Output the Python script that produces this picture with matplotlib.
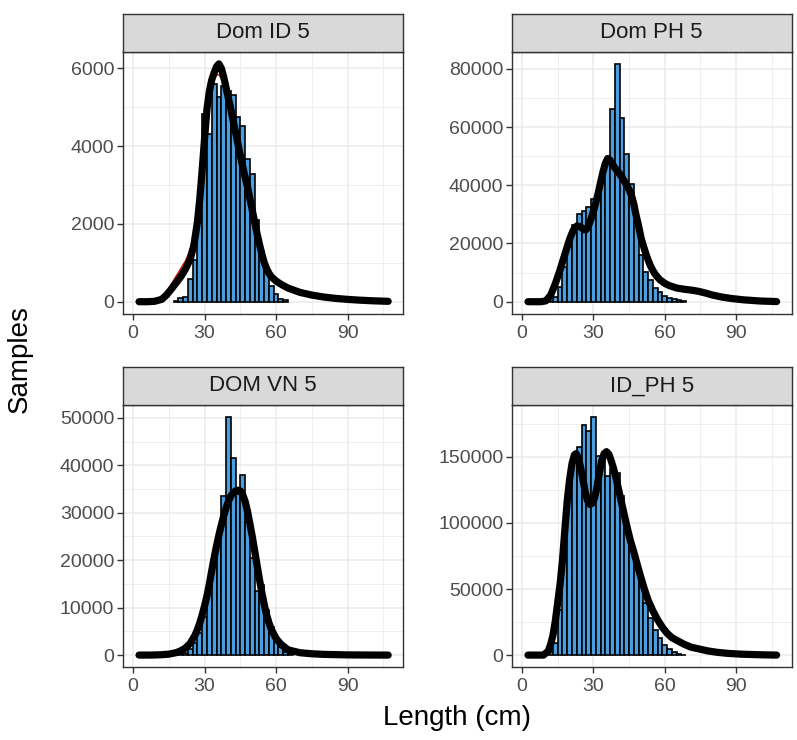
import matplotlib.pyplot as plt
import numpy as np

plt.rcParams['font.family'] = ['Liberation Sans', 'DejaVu Sans']

panel_names = ['Dom ID 5', 'Dom PH 5', 'DOM VN 5', 'ID_PH 5']

# histogram bins (2 cm wide, centres) and counts
id_centers = [18, 20, 22, 24, 26, 28, 30, 32, 34, 36, 38, 40, 42, 44, 46, 48, 50, 52, 54, 56, 58, 60, 62, 64]
id_counts = [30, 85, 130, 590, 1080, 2310, 4830, 4310, 5600, 5260, 5550, 5420, 5300, 4740, 4520, 3660, 3280, 2100,
             1300, 850, 400, 200, 80, 40]

ph_centers = [12, 14, 16, 18, 20, 22, 24, 26, 28, 30, 32, 34, 36, 38, 40, 42, 44, 46, 48, 50, 52, 54, 56, 58, 60,
              62, 64, 66, 68]
ph_counts = [300, 1500, 5000, 12000, 20000, 26500, 30100, 31000, 32500, 35300, 38000, 44500, 48500, 66200, 81700,
             63000, 50600, 40300, 28700, 16100, 10300, 7500, 4800, 3200, 2000, 1400, 1100, 500, 300]

vn_centers = [20, 22, 24, 26, 28, 30, 32, 34, 36, 38, 40, 42, 44, 46, 48, 50, 52, 54, 56, 58, 60, 62, 64, 66]
vn_counts = [150, 400, 1300, 2500, 4600, 8100, 13100, 19000, 25000, 33500, 50200, 41500, 34000, 37900, 28000, 20500,
             13500, 14800, 9500, 6000, 3500, 1800, 700, 250]

idph_centers = [10, 12, 14, 16, 18, 20, 22, 24, 26, 28, 30, 32, 34, 36, 38, 40, 42, 44, 46, 48, 50, 52, 54, 56, 58,
                60, 62, 64, 66, 68]
idph_counts = [300, 2000, 8900, 34300, 82500, 125000, 150000, 157400, 174400, 169300, 180300, 151000, 150000, 135800,
               141000, 137900, 120600, 99000, 82500, 67300, 55800, 39300, 27900, 19000, 12700, 7600, 4300, 2500, 1000,
               400]

# fitted curves: rows of [length, black fit, red fit]
id_curve = np.array([
    [2.5, 0, 0], [6, 0, 0], [9, 10, 15], [12, 60, 100], [14, 170, 250], [16, 320, 450], [18, 480, 650],
    [20, 640, 850], [22, 840, 1050], [24, 1100, 1350], [25.5, 1450, 1700], [27, 2050, 2250], [28, 2650, 2800],
    [29, 3400, 3450], [30, 4200, 4150], [31, 4950, 4800], [32, 5400, 5250], [33, 5700, 5580], [34, 5880, 5760],
    [35, 6040, 5830], [36, 6110, 5830], [37, 6000, 5740], [38, 5780, 5560], [39, 5500, 5330], [40, 5220, 5080],
    [41, 4950, 4820], [42, 4650, 4550], [43, 4350, 4270], [44, 4050, 3990], [45, 3750, 3720], [46, 3470, 3450],
    [47, 3200, 3190], [48, 2950, 2930], [49, 2650, 2660], [50, 2350, 2380], [51, 2050, 2100], [52, 1750, 1820],
    [53, 1480, 1560], [54, 1230, 1320], [55, 1010, 1110], [56, 850, 940], [57, 730, 810], [58, 640, 710],
    [60, 530, 580], [62, 450, 490], [65, 350, 390], [70, 240, 270], [75, 170, 190], [80, 120, 135],
    [85, 85, 95], [90, 60, 65], [95, 40, 42], [100, 25, 27], [107, 10, 10],
])

ph_curve = np.array([
    [2.5, 0, 0], [8, 0, 0], [10, 300, 400], [12, 2200, 2500], [14, 6200, 6500], [16, 11000, 11300],
    [18, 16300, 16500], [20, 21500, 21500], [21.5, 24500, 24300], [23, 26000, 25600], [24.5, 25800, 25500],
    [26, 24700, 24600], [27, 24800, 24800], [28, 26200, 26000], [29, 28500, 28300], [30, 31000, 30700],
    [31, 34000, 33600], [32, 37300, 36800], [33, 41000, 40300], [34, 44500, 43700], [35, 47500, 46500],
    [36, 49200, 47800], [37, 48600, 47200], [38, 47200, 45800], [39, 46000, 44500], [40, 45000, 43300],
    [41, 44000, 42200], [42, 42800, 41100], [43, 41400, 40000], [44, 40000, 38800], [45, 38500, 37600],
    [46, 36500, 36000], [47, 33500, 33800], [48, 29500, 30200], [49, 26000, 26900], [50, 22000, 23200],
    [51, 19200, 20000], [52, 16600, 17300], [53, 14300, 15000], [54, 12300, 13000], [55, 10700, 11300],
    [56, 9400, 9900], [57, 8400, 8900], [58, 7500, 8000], [60, 6300, 6700], [62, 5500, 5800], [65, 4700, 4900],
    [68, 4300, 4400], [71, 4000, 4000], [74, 3600, 3600], [77, 3000, 3000], [80, 2300, 2400], [84, 1600, 1700],
    [88, 1100, 1200], [93, 650, 700], [100, 250, 280], [107, 50, 60],
])

vn_curve = np.array([
    [2.5, 0, 0], [8, 10, 12], [12, 80, 90], [15, 200, 220], [18, 500, 540], [20, 900, 950], [22, 1500, 1580],
    [24, 2500, 2600], [26, 4200, 4300], [27, 5400, 5500], [28, 6800, 6900], [29, 8500, 8600], [30, 10400, 10500],
    [31, 12500, 12600], [32, 15000, 15000], [33, 17800, 17800], [34, 20500, 20500], [35, 23000, 23000],
    [36, 25300, 25300], [37, 27400, 27500], [38, 29300, 29400], [39, 31000, 31100], [40, 32400, 32500],
    [41, 33500, 33600], [42, 34200, 34400], [43, 34600, 34800], [44, 34750, 35000], [45, 34600, 34900],
    [46, 33800, 34000], [47, 32400, 32500], [48, 30300, 30400], [49, 27700, 27800], [50, 25000, 25000],
    [51, 22000, 22000], [52, 19000, 19000], [53, 16000, 16000], [54, 13200, 13200], [55, 10700, 10800],
    [56, 8500, 8600], [57, 6800, 6900], [58, 5400, 5500], [60, 3500, 3600], [62, 2300, 2350], [65, 1100, 1150],
    [70, 500, 520], [75, 280, 290], [80, 150, 160], [90, 40, 45], [100, 10, 10], [107, 0, 0],
])

idph_curve = np.array([
    [2.5, 0, 0], [9, 0, 0], [11, 3000, 2800], [12, 8000, 7500], [13, 15000, 14200], [14, 26000, 25000],
    [15, 40000, 39000], [16, 54000, 53000], [17, 72000, 71000], [18, 95000, 93500], [19, 117000, 115000],
    [20, 133000, 131000], [21, 145000, 142000], [22, 151500, 147500], [22.7, 152500, 148000],
    [23.5, 150000, 146000], [24.5, 143000, 139500], [25.5, 134000, 131000], [26.5, 124000, 121500],
    [27.5, 117000, 114500], [28.5, 114000, 111500], [29.5, 115000, 112500], [30.5, 119000, 116500],
    [31.5, 127000, 124500], [32.5, 138000, 135000], [33.5, 147000, 144000], [34.5, 152500, 149000],
    [35.5, 154000, 150500], [36.5, 152000, 149000], [37.5, 147000, 144500], [38.5, 141000, 139000],
    [39.5, 134000, 132500], [41, 122000, 121500], [42.5, 110000, 110000], [44, 98000, 98500],
    [45.5, 87000, 88000], [47, 78000, 79000], [48.5, 68000, 69500], [50, 58500, 60000], [51.5, 49500, 51000],
    [53, 41500, 42800], [55, 33500, 34500], [57, 26700, 27500], [59, 21000, 21700], [61, 16500, 17000],
    [63, 13200, 13600], [65.4, 10800, 11100], [68, 8300, 8500], [71, 6000, 6200], [74, 4800, 4900],
    [78, 3200, 3300], [82, 2100, 2200], [86.5, 1300, 1400], [92, 700, 750], [100, 250, 270], [107, 0, 0],
])

y_steps = [2000, 20000, 10000, 50000]

panels = [
    (id_centers, id_counts, id_curve),
    (ph_centers, ph_counts, ph_curve),
    (vn_centers, vn_counts, vn_curve),
    (idph_centers, idph_counts, idph_curve),
]

W, H = 797, 740
FILL = '#4A9EDF'

# pixel boxes: left, top, right, bottom
boxes = [(122.7, 52, 403.3, 313.6), (511.7, 52, 791.7, 313.6),
         (122.7, 405, 403.3, 667), (511.7, 405, 791.7, 667)]
strip_h = 38


def px_axes(fig, left, top, right, bottom):
    return fig.add_axes([left / W, 1 - bottom / H, (right - left) / W, (bottom - top) / H])


fig = plt.figure(figsize=(W / 100, H / 100), dpi=100)

for i, (centers, counts, curve) in enumerate(panels):
    l, t, r, b = boxes[i]
    ax = px_axes(fig, l, t, r, b)
    ax.set_facecolor('white')

    fx, fb, fr = curve[:, 0], curve[:, 1], curve[:, 2]
    ax.bar(centers, counts, width=2, color=FILL, edgecolor='black', linewidth=1.2, zorder=2)
    ax.plot(fx, fr, color='#D00000', lw=1.0, zorder=3)
    ax.plot(fx, fb, color='black', lw=5.2, solid_capstyle='round', solid_joinstyle='round', zorder=4)

    top = max(max(counts), fb.max(), fr.max())
    ax.set_xlim(-4.35, 113.35)
    ax.set_ylim(-0.05 * top, 1.05 * top)

    step = y_steps[i]
    ax.set_xticks([0, 30, 60, 90])
    ax.set_xticks([15, 45, 75, 105], minor=True)
    yt = np.arange(0, top * 1.05 + 1, step)
    ax.set_yticks(yt)
    ym = np.arange(step / 2, top * 1.05, step)
    ax.set_yticks(ym, minor=True)
    ax.set_yticklabels([f'{int(v)}' for v in yt])

    ax.grid(which='major', color='#EBEBEB', lw=1.1, zorder=0)
    ax.grid(which='minor', color='#EBEBEB', lw=0.55, zorder=0)
    ax.set_axisbelow(True)
    ax.tick_params(which='major', length=4, width=1, color='#333333', labelsize=14,
                   labelcolor='#4D4D4D', pad=2)
    ax.tick_params(axis='x', which='major', pad=4)
    ax.tick_params(which='minor', length=0)
    for s in ax.spines.values():
        s.set_color('#333333')
        s.set_linewidth(1.0)

    # facet strip
    sax = px_axes(fig, l, t - strip_h, r, t)
    sax.set_facecolor('#D9D9D9')
    sax.set_xticks([])
    sax.set_yticks([])
    for s in sax.spines.values():
        s.set_color('#333333')
        s.set_linewidth(1.0)
    sax.text(0.5, 0.5, panel_names[i], ha='center', va='center', fontsize=16, color='#1A1A1A',
             transform=sax.transAxes)

fig.text(20 / W, 1 - 359 / H, 'Samples', rotation=90, ha='center', va='center', fontsize=20)
fig.text(457 / W, 1 - 718 / H, 'Length (cm)', ha='center', va='center', fontsize=20)

fig.savefig('out.png', dpi=100)
